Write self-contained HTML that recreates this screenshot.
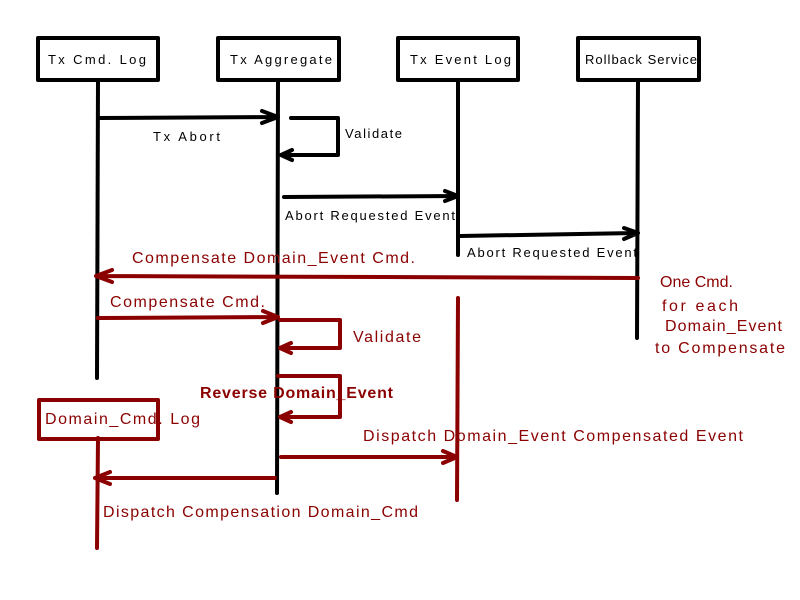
<!DOCTYPE html>
<html><head><meta charset="utf-8"><style>html,body{margin:0;padding:0;background:#fff;width:800px;height:600px;overflow:hidden}</style></head>
<body>
<svg width="800" height="600" viewBox="0 0 800 600" xmlns="http://www.w3.org/2000/svg" font-family="'Liberation Sans', sans-serif">
<rect width="800" height="600" fill="#fff"/>
<g fill="none" stroke="#000" stroke-width="4" stroke-linecap="round" stroke-linejoin="round">
<rect x="38" y="38" width="120" height="42"/>
<rect x="218" y="38" width="121" height="42"/>
<rect x="398" y="38" width="120" height="42"/>
<rect x="578" y="38" width="121" height="42"/>
<line x1="98" y1="80" x2="97" y2="378"/>
<line x1="278" y1="80" x2="277" y2="493"/>
<line x1="458" y1="80" x2="458" y2="255"/>
<line x1="638" y1="80" x2="637" y2="338"/>
<path d="M98 118 L278 117 M262 111 L278 117 L262 123"/>
<path d="M291 118 L338 118 L338 155 L281 155 M292 150 L281 155 L292 160"/>
<path d="M284 197 L458 196 M445 191 L458 196 L445 201"/>
<path d="M460 236 L638 233 M624 228 L638 233 L624 239"/>
</g>
<g fill="#000" font-size="13" lengthAdjust="spacing">
<text x="48" y="64" textLength="98">Tx Cmd. Log</text>
<text x="230" y="64" textLength="102">Tx Aggregate</text>
<text x="410" y="64" textLength="101">Tx Event Log</text>
<text x="585" y="64" textLength="112">Rollback Service</text>
<text x="153" y="141" textLength="67">Tx Abort</text>
<text x="345" y="138" textLength="57">Validate</text>
<text x="285" y="220" textLength="170">Abort Requested Event</text>
<text x="467" y="257" textLength="170">Abort Requested Event</text>
</g>
<g fill="none" stroke="#8b0000" stroke-width="4" stroke-linecap="round" stroke-linejoin="round">
<line x1="458" y1="298" x2="457" y2="500"/>
<path d="M638 278 L96 276 M112 270 L96 276 L112 282"/>
<path d="M98 318 L278 317 M263 311 L278 317 L263 323"/>
<path d="M280 320 L340 320 L340 348 L280 348 M291 343 L280 348 L291 353"/>
<path d="M278 376 L340 376 L340 417 L280 417 M291 412 L280 417 L291 422"/>
<rect x="39" y="400" width="119" height="39"/>
<line x1="98" y1="438" x2="97" y2="548"/>
<path d="M281 457 L457 457 M443 451 L457 457 L443 463"/>
<path d="M275 478 L95 478 M110 472 L95 478 L110 484"/>
</g>
<g fill="#8b0000" font-size="16">
<text x="132" y="263" textLength="283" lengthAdjust="spacing">Compensate Domain_Event Cmd.</text>
<text x="110" y="307" textLength="155" lengthAdjust="spacing">Compensate Cmd.</text>
<text x="353" y="342" textLength="68" lengthAdjust="spacing">Validate</text>
<text x="200" y="398" font-weight="bold" textLength="193" lengthAdjust="spacing">Reverse Domain_Event</text>
<text x="45" y="424" textLength="155" lengthAdjust="spacing">Domain_Cmd. Log</text>
<text x="363" y="441" textLength="380" lengthAdjust="spacing">Dispatch Domain_Event Compensated Event</text>
<text x="103" y="517" textLength="315" lengthAdjust="spacing">Dispatch Compensation Domain_Cmd</text>
<text x="660" y="287">One Cmd.</text>
<text x="662" y="311" textLength="76" lengthAdjust="spacing">for each</text>
<text x="665" y="331" textLength="117" lengthAdjust="spacing">Domain_Event</text>
<text x="655" y="353" textLength="130" lengthAdjust="spacing">to Compensate</text>
</g>
</svg>
</body></html>
